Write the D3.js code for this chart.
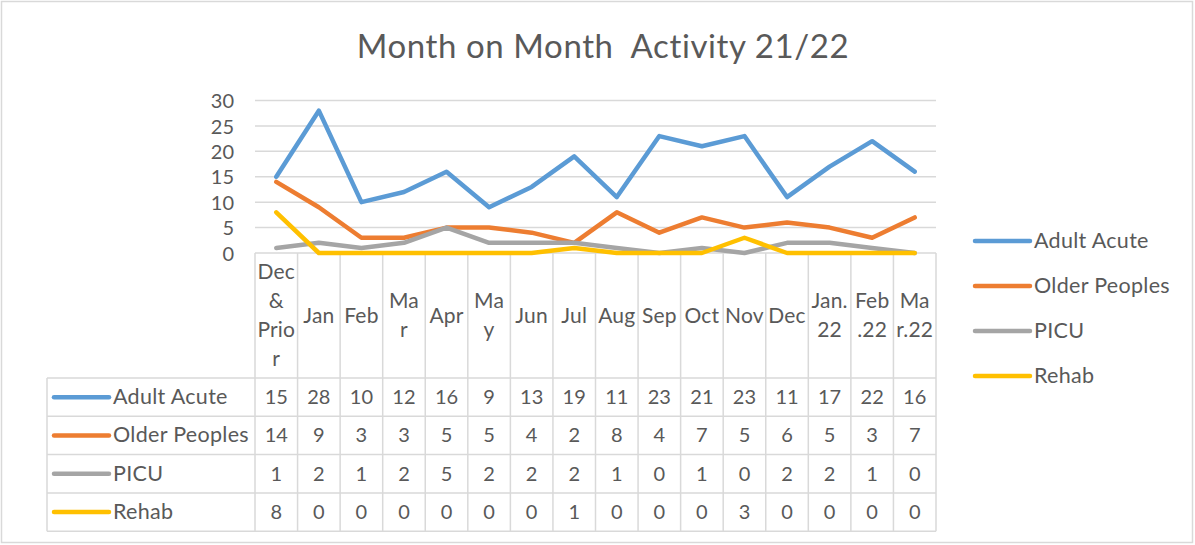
<!DOCTYPE html>
<html><head><meta charset="utf-8">
<script src="https://cdn.jsdelivr.net/npm/d3@7"></script>
<style>
html,body{margin:0;padding:0;background:#fff;}
svg{display:block;}
text{font-family:Lato,"Open Sans",sans-serif;fill:#595959;white-space:pre;}
</style></head>
<body>
<svg id="chart" width="1195" height="545"></svg>
<script>
const title = "Month on Month  Activity 21/22";
const categories = ["Dec & Prior","Jan","Feb","Mar","Apr","May","Jun","Jul","Aug","Sep","Oct","Nov","Dec","Jan.22","Feb.22","Mar.22"];
const categoryLines = [["Dec","&","Prio","r"],["Jan"],["Feb"],["Ma","r"],["Apr"],["Ma","y"],["Jun"],["Jul"],["Aug"],["Sep"],["Oct"],["Nov"],["Dec"],["Jan.","22"],["Feb",".22"],["Ma","r.22"]];
const seriesNames = ["Adult Acute","Older Peoples","PICU","Rehab"];
const adultAcute   = [15,28,10,12,16,9,13,19,11,23,21,23,11,17,22,16];
const olderPeoples = [14,9,3,3,5,5,4,2,8,4,7,5,6,5,3,7];
const picu         = [1,2,1,2,5,2,2,2,1,0,1,0,2,2,1,0];
const rehab        = [8,0,0,0,0,0,0,1,0,0,0,3,0,0,0,0];
const yTicks = [0,5,10,15,20,25,30];
const seriesColors = ["#5B9BD5","#ED7D31","#A5A5A5","#FFC000"];

const seriesData = [adultAcute, olderPeoples, picu, rehab];
const svg = d3.select("#chart");
const grid = "#D9D9D9";

// outer border
svg.append("rect").attr("x",1.5).attr("y",1.5).attr("width",1191).attr("height",541)
  .attr("fill","#fff").attr("stroke",grid).attr("stroke-width",1.5);

// title
svg.append("text").attr("x",603).attr("y",58).attr("text-anchor","middle")
  .attr("font-size",33).attr("letter-spacing","0.6px").attr("xml:space","preserve").text(title);

const x = d3.scaleBand().domain(categories).range([255,936]).paddingInner(0).paddingOuter(0);
const y = d3.scaleLinear().domain([0,30]).range([253,100.5]);

// gridlines
svg.append("g").selectAll("line").data(yTicks).join("line")
  .attr("x1",255).attr("x2",936).attr("y1",d=>y(d)).attr("y2",d=>y(d))
  .attr("stroke",grid).attr("stroke-width",1.5);

// y axis labels
const yAxis = d3.axisLeft(y).tickValues(yTicks).tickSize(0).tickPadding(0);
const ya = svg.append("g").attr("transform","translate(234,0)").call(yAxis);
ya.select(".domain").remove();
ya.selectAll("text").attr("font-size",20).attr("fill","#595959")
  .attr("font-family","Lato,'Open Sans',sans-serif").attr("dy","0.36em");

// table geometry
const tableLeft = 47, tableRight = 936, headerTop = 253, headerBottom = 378, rowH = 38.3;
const rows = seriesNames.map((n,i)=>({name:n,i,top:headerBottom+i*rowH}));

// header vertical lines
const bounds = categories.map(c=>x(c)).concat([x(categories[categories.length-1])+x.bandwidth()]);
svg.append("g").selectAll("line").data(bounds).join("line")
  .attr("x1",d=>d).attr("x2",d=>d).attr("y1",headerTop).attr("y2",headerBottom+4*rowH)
  .attr("stroke",grid).attr("stroke-width",1.5);
// table left vertical
svg.append("line").attr("x1",tableLeft).attr("x2",tableLeft).attr("y1",headerBottom).attr("y2",headerBottom+4*rowH)
  .attr("stroke",grid).attr("stroke-width",1.5);
// table horizontal lines
svg.append("g").selectAll("line").data(d3.range(5)).join("line")
  .attr("x1",tableLeft).attr("x2",tableRight)
  .attr("y1",d=>headerBottom+d*rowH).attr("y2",d=>headerBottom+d*rowH)
  .attr("stroke",grid).attr("stroke-width",1.5);

// category labels
const lh = 29;
const catG = svg.append("g");
categories.forEach((c,i)=>{
  const lines = categoryLines[i];
  const cx = x(c)+x.bandwidth()/2;
  const mid = (headerTop+headerBottom)/2 + 7;
  const start = mid - (lines.length-1)*lh/2;
  const t = catG.append("text").attr("text-anchor","middle").attr("font-size",21).attr("letter-spacing","0.2px");
  lines.forEach((l,j)=>t.append("tspan").attr("x",cx).attr("y",start+j*lh).text(l));
});

// table rows
rows.forEach(r=>{
  const cy = r.top + rowH/2;
  svg.append("line").attr("x1",54).attr("x2",109).attr("y1",cy).attr("y2",cy)
    .attr("stroke",seriesColors[r.i]).attr("stroke-width",4.5).attr("stroke-linecap","round");
  svg.append("text").attr("x",113).attr("y",cy+7).attr("font-size",21.5).attr("letter-spacing","0.3px").text(r.name);
  seriesData[r.i].forEach((v,k)=>{
    svg.append("text").attr("x",x(categories[k])+x.bandwidth()/2).attr("y",cy+7)
      .attr("text-anchor","middle").attr("font-size",20).text(v);
  });
});

// lines
const line = d3.line().x((d,i)=>x(categories[i])+x.bandwidth()/2).y(d=>y(d));
seriesData.forEach((s,i)=>{
  svg.append("path").datum(s).attr("d",line).attr("fill","none")
    .attr("stroke",seriesColors[i]).attr("stroke-width",4.5)
    .attr("stroke-linejoin","round").attr("stroke-linecap","round");
});

// legend
const legY = [241,286,331,376];
seriesNames.forEach((n,i)=>{
  svg.append("line").attr("x1",975).attr("x2",1030).attr("y1",legY[i]).attr("y2",legY[i])
    .attr("stroke",seriesColors[i]).attr("stroke-width",4.5).attr("stroke-linecap","round");
  svg.append("text").attr("x",1034).attr("y",legY[i]+7).attr("font-size",21.5).attr("letter-spacing","0.3px").text(n);
});
</script>
</body></html>
